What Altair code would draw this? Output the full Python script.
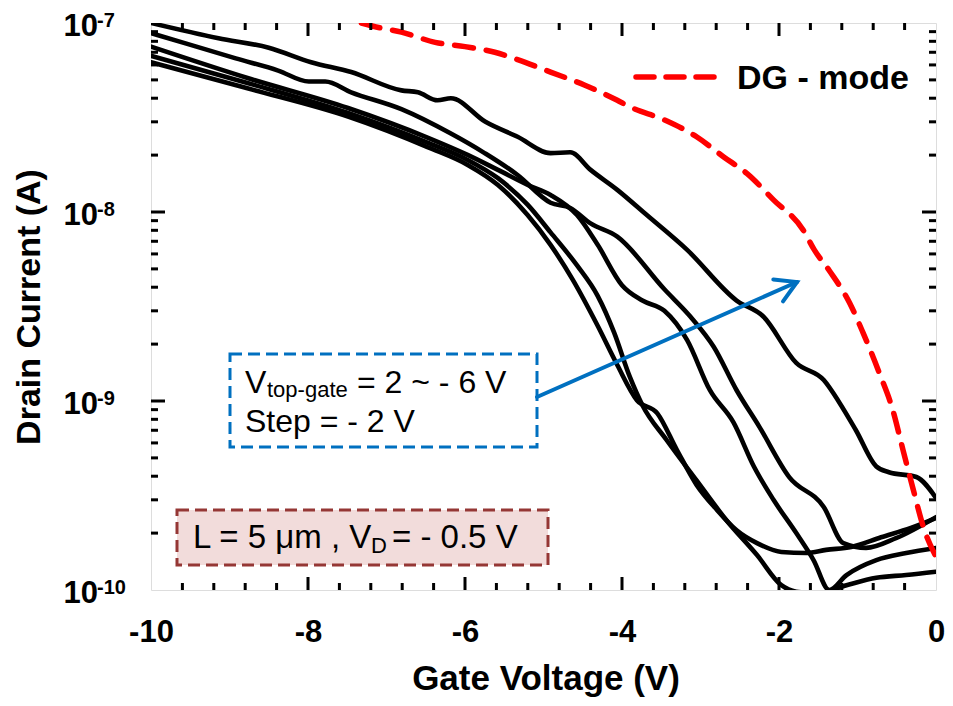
import altair as alt
import pandas as pd

# ---------------- data ----------------
# Vtop-gate = -6 V
vg_a = [-10, -9.14, -8.50, -7.96, -7.45, -6.81, -6.60, -6.35, -6.18, -5.74, -5.33, -4.91, -4.66, -4.40, -4.06,
        -3.68, -3.17, -2.54, -2.20, -1.78, -1.43, -1.23, -1.02, -0.76, -0.60, -0.25, 0]
id_a = [1.0e-7, 8.3e-8, 7.4e-8, 6.2e-8, 5.5e-8, 4.4e-8, 4.3e-8, 3.9e-8, 4.0e-8, 3.0e-8, 2.5e-8, 2.05e-8, 2.07e-8, 1.67e-8, 1.31e-8,
        9.6e-9, 6.3e-9, 3.4e-9, 2.8e-9, 1.59e-9, 1.29e-9, 9.8e-10, 7.0e-10, 4.5e-10, 4.2e-10, 3.96e-10, 3.07e-10]
# Vtop-gate = -4 V
vg_b = [-10, -9.56, -8.92, -8.38, -7.99, -7.78, -7.45, -6.81, -6.18, -5.75, -5.33, -4.91, -4.66, -4.40, -4.06,
        -3.46, -3.13, -2.83, -2.54, -2.25, -1.87, -1.43, -1.18, -0.89, -0.51, 0]
id_b = [8.85e-8, 7.8e-8, 6.5e-8, 5.6e-8, 4.9e-8, 4.9e-8, 4.3e-8, 3.5e-8, 2.6e-8, 2.05e-8, 1.57e-8, 1.12e-8, 1.05e-8, 8.7e-9, 7.4e-9,
        3.9e-9, 2.8e-9, 1.93e-9, 1.14e-9, 7.3e-10, 3.96e-10, 2.75e-10, 1.77e-10, 1.67e-10, 1.88e-10, 2.43e-10]
# Vtop-gate = -2 V
vg_c = [-10, -8.76, -7.49, -6.47, -5.96, -5.58, -5.20, -4.91, -4.57, -4.31, -4.00, -3.74, -3.46, -3.17, -2.88,
        -2.58, -2.32, -2.07, -1.78, -1.56, -1.36, -1.14, -0.76, -0.38, 0]
id_c = [7.5e-8, 5.1e-8, 3.55e-8, 2.47e-8, 2.0e-8, 1.67e-8, 1.39e-8, 1.23e-8, 9.6e-9, 6.7e-9, 4.1e-9, 3.4e-9, 3.0e-9, 2.1e-9, 1.14e-9,
        7.7e-10, 4.5e-10, 3.0e-10, 2.0e-10, 1.44e-10, 1.0e-10, 1.2e-10, 1.44e-10, 1.57e-10, 1.67e-10]
# Vtop-gate = 0 V
vg_d = [-10, -8.76, -7.49, -6.47, -5.96, -5.58, -5.20, -4.91, -4.57, -4.31, -4.10, -3.90, -3.74, -3.43, -3.05,
        -2.67, -2.28, -1.97, -1.78, -1.50, -1.14, -0.76, -0.38, 0]
id_d = [6.7e-8, 4.8e-8, 3.34e-8, 2.32e-8, 1.88e-8, 1.51e-8, 1.09e-8, 7.8e-9, 5.2e-9, 3.6e-9, 2.3e-9, 1.34e-9, 9.5e-10, 6.2e-10, 3.8e-10,
        2.34e-10, 1.53e-10, 1.06e-10, 9.8e-11, 9.6e-11, 1.06e-10, 1.16e-10, 1.2e-10, 1.25e-10]
# Vtop-gate = 2 V
vg_e = [-10, -8.76, -7.49, -6.47, -5.96, -5.58, -5.20, -4.91, -4.63, -4.31, -4.06, -3.81, -3.55, -3.30, -3.05,
        -2.79, -2.54, -2.28, -1.97, -1.65, -1.40, -1.08, -0.70, -0.32, 0]
id_e = [6.2e-8, 4.5e-8, 3.2e-8, 2.2e-8, 1.77e-8, 1.39e-8, 9.6e-9, 6.7e-9, 4.4e-9, 2.5e-9, 1.55e-9, 1.01e-9, 8.6e-10, 5.5e-10, 3.6e-10,
        2.65e-10, 2.07e-10, 1.77e-10, 1.59e-10, 1.57e-10, 1.63e-10, 1.69e-10, 1.9e-10, 2.13e-10, 2.4e-10]
# DG - mode
vg_dg = [-7.32, -7.07, -6.81, -6.38, -6.00, -5.62, -5.33, -4.91, -4.48, -4.06, -3.90, -3.46, -3.05, -2.70, -2.41,
         -2.07, -1.69, -1.55, -1.36, -1.10, -0.93, -0.72, -0.55, -0.42, -0.29, -0.16, 0.0]
id_dg = [1.0e-7, 9.4e-8, 8.95e-8, 7.9e-8, 7.5e-8, 7.0e-8, 6.4e-8, 5.5e-8, 4.7e-8, 3.9e-8, 3.6e-8, 3.07e-8, 2.5e-8, 1.95e-8, 1.6e-8,
         1.16e-8, 8.0e-9, 6.3e-9, 4.9e-9, 3.3e-9, 2.3e-9, 1.4e-9, 8.95e-10, 5.5e-10, 3.4e-10, 2.15e-10, 1.5e-10]

x_labels = [-10, -8, -6, -4, -2, 0]
y_decades = [1e-7, 1e-8, 1e-9, 1e-10]
y_exponents = ["-7", "-8", "-9", "-10"]

# ---------------- frames ----------------
rows = []
for name, xs_, ys_ in [("-6 V", vg_a, id_a), ("-4 V", vg_b, id_b), ("-2 V", vg_c, id_c),
                       ("0 V", vg_d, id_d), ("2 V", vg_e, id_e)]:
    for i, (xv, yv) in enumerate(zip(xs_, ys_)):
        rows.append({"series": name, "idx": i, "vg": xv, "id": yv})
df_curves = pd.DataFrame(rows)
df_dg = pd.DataFrame({"vg": vg_dg, "id": id_dg, "idx": range(len(vg_dg))})
df_ylab = pd.DataFrame({"y": y_decades, "exp": y_exponents})

x_major = [-8, -6, -4, -2]
x_minor = [round(-10 + 0.4 * k, 1) for k in range(1, 25) if round(-10 + 0.4 * k, 1) not in x_major]
y_minor = [m * 10.0 ** e for e in (-10, -9, -8) for m in range(2, 10)]
y_major = [1e-9, 1e-8]

W, H = 785, 567
FONT = "Liberation Sans"
xs = alt.Scale(domain=[-10, 0], nice=False, zero=False)
ys = alt.Scale(type="log", domain=[1e-10, 1e-7], nice=False)
dummy = pd.DataFrame({"d": [0]})

curves = alt.Chart(df_curves).mark_line(
    clip=True, color="black", strokeWidth=4.6, strokeJoin="round", strokeCap="round",
    interpolate="monotone"
).encode(
    x=alt.X("vg:Q", scale=xs, axis=alt.Axis(
        values=x_labels, grid=False, domain=False, ticks=False, tickSize=0, title=None,
        labelFont=FONT, labelFontSize=31, labelFontWeight="bold", labelColor="black",
        labelFlush=False, labelOverlap=False,
        labelPadding=27, labelExpr="datum.value == 0 ? '0' : '-' + abs(datum.value)")),
    y=alt.Y("id:Q", scale=ys, axis=None),
    detail="series:N",
    order="idx:Q",
)

dg = alt.Chart(df_dg).mark_line(
    clip=True, color="#ff0000", strokeWidth=5.5, strokeDash=[19, 13], strokeCap="round",
    interpolate="monotone"
).encode(x=alt.X("vg:Q", scale=xs), y=alt.Y("id:Q", scale=ys), order="idx:Q")

# ticks (inward, mirrored)
def xticks(vals, length):
    d = pd.DataFrame({"v": vals})
    b = alt.Chart(d).mark_rule(color="black", strokeWidth=3)
    return (b.encode(x=alt.X("v:Q", scale=xs), y=alt.value(H), y2=alt.value(H - length)) +
            b.encode(x=alt.X("v:Q", scale=xs), y=alt.value(0), y2=alt.value(length)))

def yticks(vals, length):
    d = pd.DataFrame({"v": vals})
    b = alt.Chart(d).mark_rule(color="black", strokeWidth=3)
    return (b.encode(y=alt.Y("v:Q", scale=ys), x=alt.value(0), x2=alt.value(length)) +
            b.encode(y=alt.Y("v:Q", scale=ys), x=alt.value(W), x2=alt.value(W - length)))

ticks = xticks(x_major, 13) + xticks(x_minor, 7) + yticks(y_major, 14) + yticks(y_minor, 7)

# y labels 10^n
ylab_base = alt.Chart(df_ylab).mark_text(
    text="10", font=FONT, fontSize=31, fontWeight="bold", align="right", baseline="alphabetic", dy=13
).encode(y=alt.Y("y:Q", scale=ys), x=alt.value(-53))
ylab_exp = alt.Chart(df_ylab).mark_text(
    font=FONT, fontSize=20, fontWeight="bold", align="left", baseline="alphabetic", dy=4
).encode(y=alt.Y("y:Q", scale=ys), x=alt.value(-54), text="exp:N")

def txt(s, x, y, size, weight="normal", align="left", angle=0, color="black"):
    kw = dict(text=s, font=FONT, fontSize=size, fontWeight=weight, align=align,
              baseline="alphabetic", color=color)
    if angle:
        kw["angle"] = angle
    return alt.Chart(dummy).mark_text(**kw).encode(x=alt.value(x), y=alt.value(y))

x_title = txt("Gate Voltage (V)", 395, 667, 35, "bold", "center")
y_title = txt("Drain Current (A)", -111, 284, 34, "bold", "center", angle=270)

# legend
leg_line = alt.Chart(dummy).mark_rule(
    color="#ff0000", strokeWidth=5.5, strokeDash=[18, 12], strokeCap="round"
).encode(x=alt.value(485), x2=alt.value(564), y=alt.value(54))
leg_text = txt("DG - mode", 586, 66, 34, "bold")

# annotation boxes
box1 = alt.Chart(dummy).mark_rect(
    fill="white", stroke="#0070C0", strokeWidth=3, strokeDash=[12, 6]
).encode(x=alt.value(79), x2=alt.value(386), y=alt.value(331), y2=alt.value(424))
box2 = alt.Chart(dummy).mark_rect(
    fill="#F2DCDB", stroke="#953735", strokeWidth=3, strokeDash=[12, 6]
).encode(x=alt.value(26), x2=alt.value(397), y=alt.value(487), y2=alt.value(542))

t1a = txt("V", 94, 370, 32)
t1b = txt("top-gate", 116, 374, 22)
t1c = txt("= 2 ~ - 6 V", 206, 370, 32)
t2 = txt("Step = - 2 V", 94, 409, 32)
t3a = txt("L = 5 \u03bcm , V", 42, 525, 33)
t3b = txt("D", 220, 530, 22)
t3c = txt("= - 0.5 V", 241, 525, 33)

# arrow
arrow = alt.Chart(dummy).mark_rule(color="#0070C0", strokeWidth=4, strokeCap="round").encode(
    x=alt.value(386), y=alt.value(374), x2=alt.value(646), y2=alt.value(259))
head = alt.Chart(dummy).mark_point(
    shape="M -1 -0.58 L 0 0 L -1 0.58", filled=False, stroke="#0070C0", strokeWidth=4,
    size=1700, angle=336, opacity=1, strokeCap="round", strokeJoin="miter"
).encode(x=alt.value(646), y=alt.value(259))

chart = alt.layer(
    box2, box1, curves, dg, ticks, ylab_base, ylab_exp, x_title, y_title,
    leg_line, leg_text, t1a, t1b, t1c, t2, t3a, t3b, t3c, arrow, head
).properties(
    width=W, height=H,
    autosize=alt.AutoSizeParams(type="none"),
    padding={"left": 143, "top": 15, "right": 9, "bottom": 108},
).configure_view(stroke="black", strokeWidth=4).configure(background="white")

chart.save("out.html", embed_options={"renderer": "svg", "actions": False})
